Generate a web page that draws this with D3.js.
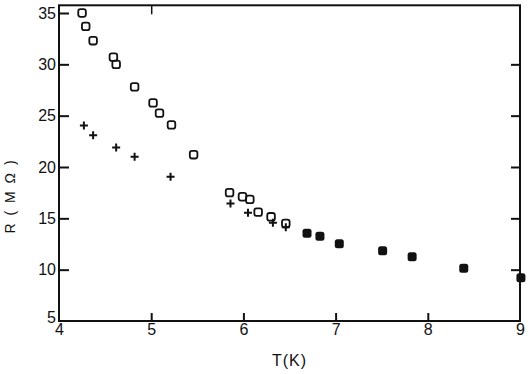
<!DOCTYPE html>
<html>
<head>
<meta charset="utf-8">
<script src="https://cdn.jsdelivr.net/npm/d3@7"></script>
<style>
  body { margin: 0; background: #fff; }
  svg { display: block; }
</style>
</head>
<body>
<div id="chart"></div>
<script>
// Data: R (MOhm) vs T (K)
var openT = [4.25, 4.29, 4.37, 4.59, 4.62, 4.82, 5.02, 5.09, 5.22, 5.46, 5.85, 5.99, 6.07, 6.16, 6.30, 6.46];
var openR = [35.0, 33.7, 32.3, 30.7, 30.0, 27.8, 26.25, 25.25, 24.1, 21.2, 17.5, 17.1, 16.85, 15.6, 15.15, 14.5];

var plusT = [4.27, 4.37, 4.62, 4.82, 5.21, 5.86, 6.05, 6.32, 6.46];
var plusR = [24.05, 23.1, 21.9, 21.0, 19.05, 16.45, 15.55, 14.57, 14.12];

var fillT = [6.69, 6.83, 7.04, 7.51, 7.83, 8.39, 9.01];
var fillR = [13.54, 13.25, 12.53, 11.85, 11.26, 10.13, 9.22];

var xTicks = [4, 5, 6, 7, 8, 9];
var yTicks = [5, 10, 15, 20, 25, 30, 35];

var W = 528, H = 374;
var svg = d3.select('#chart').append('svg')
    .attr('width', W)
    .attr('height', H);

// scales
var x = d3.scaleLinear().domain([4, 9]).range([59, 520]);
var y = d3.scaleLinear().domain([5, 35]).range([321, 13]);
var yTop = y(35.75);

var font = '16px "Liberation Sans", Arial, sans-serif';

// frame
svg.append('rect')
    .attr('x', x(4))
    .attr('y', yTop)
    .attr('width', x(9) - x(4))
    .attr('height', y(5) - yTop)
    .attr('fill', 'none')
    .attr('stroke', '#111')
    .attr('stroke-width', 2);

// bottom axis, ticks inward
var bottomAx = svg.append('g')
    .attr('transform', 'translate(0,' + y(5) + ')')
    .call(d3.axisBottom(x).tickValues(xTicks).tickFormat(d3.format('d'))
        .tickSizeInner(-8).tickSizeOuter(0).tickPadding(3));
bottomAx.select('.domain').remove();
bottomAx.selectAll('line').attr('stroke', '#111').attr('stroke-width', 2);
bottomAx.selectAll('text').style('font', font).attr('fill', '#111');
bottomAx.selectAll('.tick').filter(function (d) { return d === 4 || d === 9; })
    .select('line').remove();

// left axis, ticks inward
var leftAx = svg.append('g')
    .attr('transform', 'translate(' + x(4) + ',0)')
    .call(d3.axisLeft(y).tickValues(yTicks).tickFormat(d3.format('d'))
        .tickSizeInner(-10).tickSizeOuter(0).tickPadding(3));
leftAx.select('.domain').remove();
leftAx.selectAll('line').attr('stroke', '#111').attr('stroke-width', 2);
leftAx.selectAll('text').style('font', font).attr('fill', '#111');
leftAx.selectAll('.tick').filter(function (d) { return d === 5; })
    .select('line').remove();
leftAx.selectAll('.tick').filter(function (d) { return d === 5; })
    .select('text').attr('dy', '0.1em');

// right axis ticks
var rightAx = svg.append('g')
    .attr('transform', 'translate(' + x(9) + ',0)')
    .call(d3.axisRight(y).tickValues([10, 15, 20, 25, 30]).tickFormat('')
        .tickSizeInner(-9).tickSizeOuter(0));
rightAx.select('.domain').remove();
rightAx.selectAll('line').attr('stroke', '#111').attr('stroke-width', 2);

// top axis tick
var topAx = svg.append('g')
    .attr('transform', 'translate(0,' + yTop + ')')
    .call(d3.axisTop(x).tickValues([5]).tickFormat('')
        .tickSizeInner(-9).tickSizeOuter(0));
topAx.select('.domain').remove();
topAx.selectAll('line').attr('stroke', '#111').attr('stroke-width', 1.5);

// axis labels
svg.append('text')
    .attr('x', (x(4) + x(9)) / 2)
    .attr('y', 366)
    .attr('text-anchor', 'middle')
    .style('font', '16px "Liberation Sans", Arial, sans-serif')
    .style('letter-spacing', '1px')
    .attr('fill', '#111')
    .text('T(K)');

svg.append('text')
    .attr('transform', 'translate(15,196) rotate(-90)')
    .attr('text-anchor', 'middle')
    .style('font', '14px "Liberation Sans", Arial, sans-serif')
    .style('letter-spacing', '2px')
    .attr('fill', '#111')
    .text('R ( M Ω )');

// markers
var openData = openT.map(function (t, i) { return { t: t, r: openR[i] }; });
var plusData = plusT.map(function (t, i) { return { t: t, r: plusR[i] }; });
var fillData = fillT.map(function (t, i) { return { t: t, r: fillR[i] }; });

svg.selectAll('.open')
    .data(openData)
    .enter().append('rect')
    .attr('class', 'open')
    .attr('x', function (d) { return x(d.t) - 3.8; })
    .attr('y', function (d) { return y(d.r) - 3.8; })
    .attr('width', 7.6)
    .attr('height', 7.6)
    .attr('rx', 2.2)
    .attr('fill', 'none')
    .attr('stroke', '#111')
    .attr('stroke-width', 1.8);

svg.selectAll('.plus')
    .data(plusData)
    .enter().append('path')
    .attr('class', 'plus')
    .attr('d', function (d) {
        var cx = x(d.t), cy = y(d.r), s = 4;
        return 'M' + (cx - s) + ',' + cy + 'H' + (cx + s) +
            'M' + cx + ',' + (cy - s) + 'V' + (cy + s);
    })
    .attr('stroke', '#111')
    .attr('stroke-width', 2);

svg.selectAll('.fill')
    .data(fillData)
    .enter().append('rect')
    .attr('class', 'fill')
    .attr('x', function (d) { return x(d.t) - 4.5; })
    .attr('y', function (d) { return y(d.r) - 4.5; })
    .attr('width', 9)
    .attr('height', 9)
    .attr('rx', 2.5)
    .attr('fill', '#111');
</script>
</body>
</html>
